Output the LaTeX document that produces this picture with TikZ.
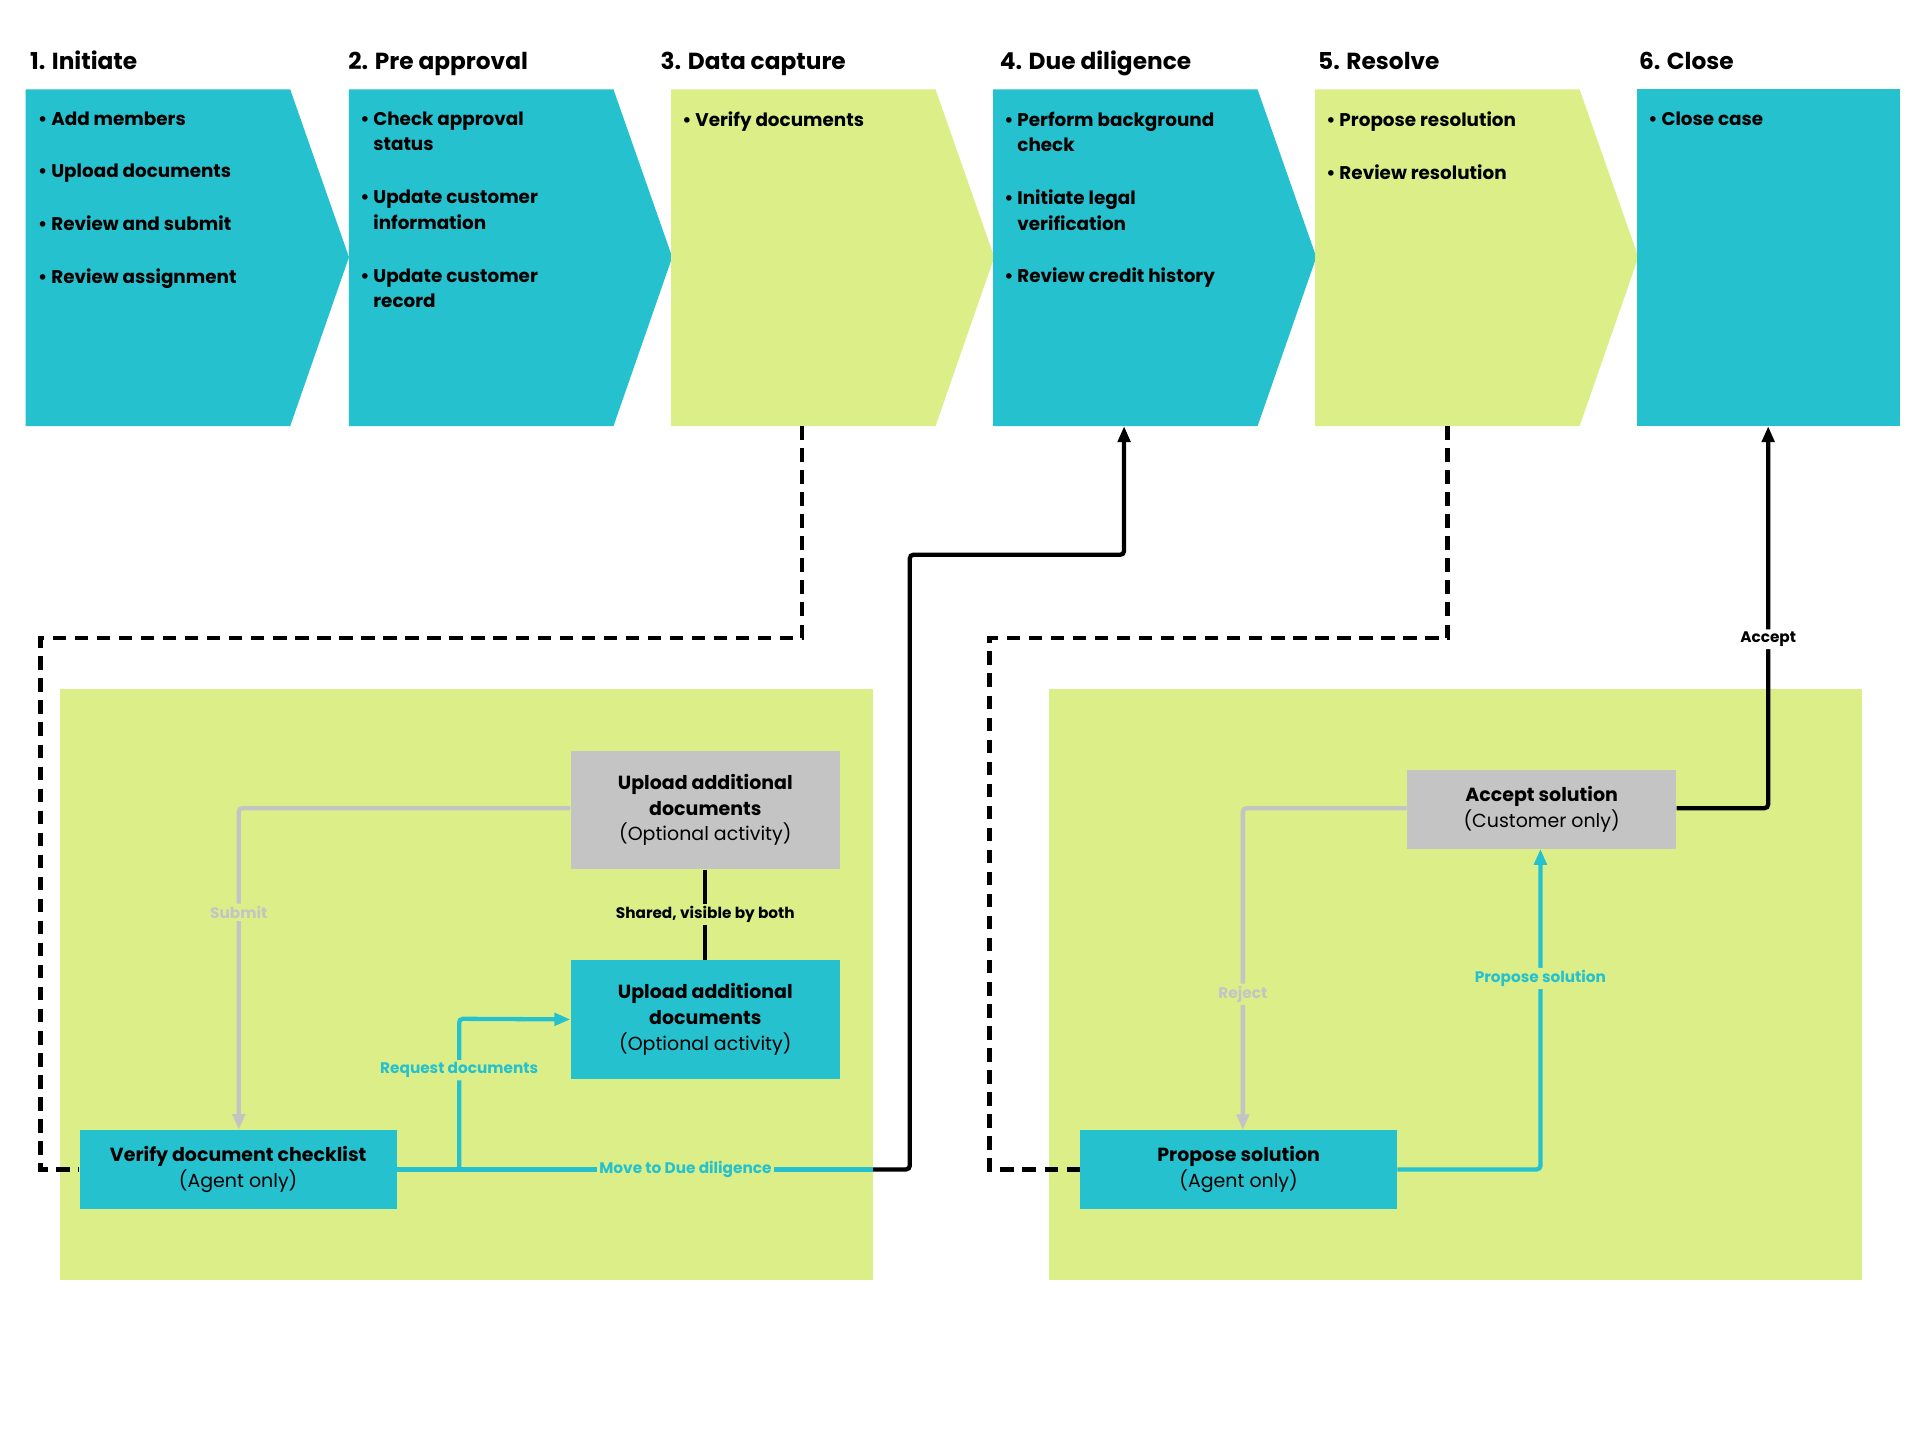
\documentclass[tikz,border=0pt]{standalone}
\usepackage{fontspec}
\setmainfont{Poppins}
\usetikzlibrary{arrows.meta}
\definecolor{cy}{HTML}{25C1CE}
\definecolor{gr}{HTML}{DCEE88}
\definecolor{gy}{HTML}{C4C4C4}
\begin{document}
\begin{tikzpicture}[x=1pt,y=-1pt,
  hd/.style={anchor=base west,font=\fontsize{19}{22}\selectfont\bfseries},
  bl/.style={anchor=north west,align=left,font=\fontsize{15}{21}\selectfont\bfseries,inner sep=0pt},
  box/.style={draw=none,minimum width=220pt,align=center,font=\fontsize{15.5}{21}\selectfont,inner sep=0pt},
  lbl/.style={fill=gr,inner sep=2pt,font=\fontsize{12.5}{14}\selectfont\bfseries},
  bk/.style={line width=3.5pt,black},
  dsh/.style={line width=3.5pt,black,dash pattern=on 11pt off 7pt},
  cl/.style={line width=3.5pt,cy},
  gl/.style={line width=3.5pt,gy},
  tip/.style={-{Triangle[length=13pt,width=10pt]}}]
\useasboundingbox (0,0) rectangle (1568,1176);
\fill[white] (0,0) rectangle (1568,1176);
% chevrons
\foreach \x/\c [count=\i] in {21/cy,285/cy,548/gr,811/cy,1074/gr}
  \fill[\c] (\x,73) -- (\x+216,73) -- (\x+264,210) -- (\x+216,348) -- (\x,348) -- cycle;
\fill[cy] (1337,73) rectangle (1552,348);
\coordinate (c3) at (655,348); \coordinate (c4) at (918,348);
\coordinate (c5) at (1182,348); \coordinate (c6) at (1444,348);
\node[hd] at (21,57) {1. Initiate};
\node[hd] at (281,57) {2. Pre approval};
\node[hd] at (536,57) {3. Data capture};
\node[hd] at (813,57) {4. Due diligence};
\node[hd] at (1073,57) {5. Resolve};
\node[hd] at (1335,57) {6. Close};
\node[bl] (b1) at (31,91) {• Add members\\[22pt]• Upload documents\\[22pt]• Review and submit\\[22pt]• Review assignment};
\node[bl] (b2) at (294,91) {• Check approval\\\phantom{• }status\\[22pt]• Update customer\\\phantom{• }information\\[22pt]• Update customer\\\phantom{• }record};
\node[bl] (b3) at (557,91) {• Verify documents};
\node[bl] (b4) at (820,91) {• Perform background\\\phantom{• }check\\[22pt]• Initiate legal\\\phantom{• }verification\\[22pt]• Review credit history};
\node[bl] (b5) at (1083,91) {• Propose resolution\\[22pt]• Review resolution};
\node[bl] (b6) at (1346,91) {• Close case};
% panels
\fill[gr] (49,563) rectangle (713,1045);
\fill[gr] (857,563) rectangle (1521,1045);
% nodes
\node[box,fill=gy,minimum height=97pt] (ug) at (576,661.5) {\textbf{Upload additional}\\\textbf{documents}\\(Optional activity)};
\node[box,fill=cy,minimum height=97pt] (uc) at (576,832.5) {\textbf{Upload additional}\\\textbf{documents}\\(Optional activity)};
\node[box,fill=cy,minimum width=259pt,minimum height=64pt] (vd) at (194.5,955) {\textbf{Verify document checklist}\\(Agent only)};
\node[box,fill=cy,minimum width=259pt,minimum height=64pt] (ps) at (1011.5,955) {\textbf{Propose solution}\\(Agent only)};
\node[box,fill=gy,minimum height=64pt] (as) at (1259,661) {\textbf{Accept solution}\\(Customer only)};
% connectors
\draw[dsh] (c3) -- (655,521) -- (33,521) -- (33,955) -- (vd.west);
\draw[dsh] (c5) -- (1182,521) -- (808,521) -- (808,955) -- (ps.west);
\draw[cl] (vd.east) -- (713,955) node[lbl,pos=0.606]{Move to Due diligence};
\draw[bk,tip,rounded corners=3pt] (713,955) -- (743,955) -- (743,453) -- (918,453) -- (c4);
\draw[gl,tip,rounded corners=3pt] (ug.west |- 0,660) -- (195,660) -- (195,745) node[lbl]{Submit} -- (vd.north -| 195,0);
\draw[bk] (ug.south) -- (uc.north) node[lbl,midway]{Shared, visible by both};
\draw[cl,tip,rounded corners=3pt] (375,955) -- (375,874) node[lbl]{Request documents} -- (375,832) -- (uc.west);
\draw[gl,tip,rounded corners=3pt] (as.west |- 0,660) -- (1015,660) -- (1015,812) node[lbl]{Reject} -- (1015,923);
\draw[cl,tip,rounded corners=3pt] (ps.east) -- (1258,955) -- (1258,799) node[lbl]{Propose solution} -- (as.south -| 1258,0);
\draw[bk,tip,rounded corners=3pt] (as.east |- 0,660) -- (1444,660) -- (1444,522) node[lbl,fill=white]{Accept} -- (c6);
\end{tikzpicture}
\end{document}
